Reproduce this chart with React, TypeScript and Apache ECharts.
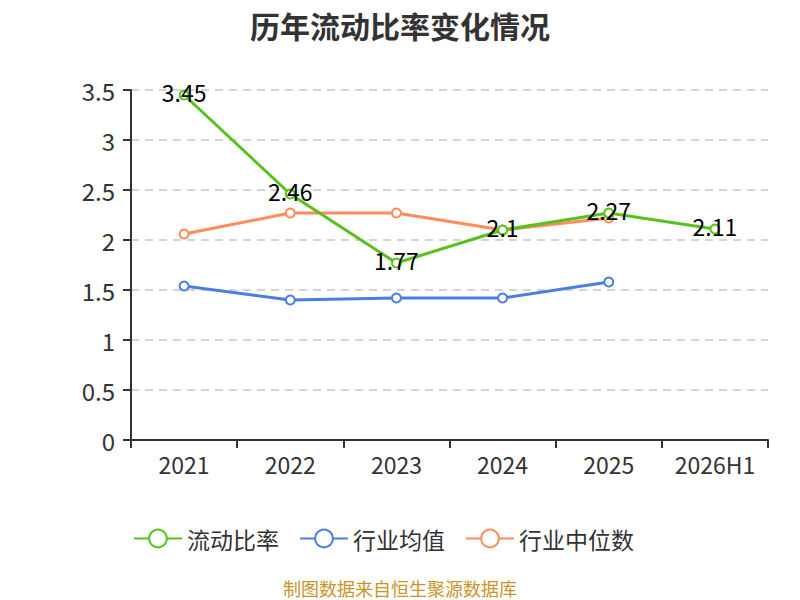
import React, { useEffect, useRef } from "react";
import * as echarts from "echarts";

const categories = ["2021", "2022", "2023", "2024", "2025", "2026H1"];
const currentRatio = [3.45, 2.46, 1.77, 2.1, 2.27, 2.11];
const industryAvg = [1.54, 1.4, 1.42, 1.42, 1.58, null];
const industryMedian = [2.06, 2.27, 2.27, 2.1, 2.22, null];

export default function App() {
  const ref = useRef<HTMLDivElement>(null);
  useEffect(() => {
    const chart = echarts.init(ref.current!, null, { renderer: "svg" });
    const font = "'Noto Sans CJK SC', 'Noto Sans', sans-serif";
    chart.setOption({
      animation: false,
      textStyle: { fontFamily: font },
      title: {
        text: "历年流动比率变化情况",
        left: "center",
        top: 5,
        textStyle: { fontSize: 30, fontWeight: "bold", color: "#333", fontFamily: font },
      },
      legend: {
        top: 527,
        left: 133,
        padding: 0,
        itemWidth: 48,
        itemHeight: 22,
        itemGap: 20,
        textStyle: { fontSize: 23, color: "#333", fontFamily: font },
        data: ["流动比率", "行业均值", "行业中位数"],
      },
      graphic: [
        {
          type: "text",
          left: "center",
          top: 579,
          style: { text: "制图数据来自恒生聚源数据库", fill: "#c9942a", fontSize: 18, lineHeight: 18, fontFamily: font },
        },
      ],
      grid: { left: 131, right: 32, top: 90, bottom: 160 },
      xAxis: {
        type: "category",
        data: categories,
        boundaryGap: true,
        axisLine: { lineStyle: { color: "#333", width: 2 } },
        axisTick: { show: true, length: 8, lineStyle: { color: "#333", width: 2 } },
        axisLabel: { fontSize: 23, color: "#333", margin: 12, interval: 0, fontFamily: font },
      },
      yAxis: {
        type: "value",
        min: 0,
        max: 3.5,
        interval: 0.5,
        axisLine: { show: true, lineStyle: { color: "#333", width: 2 } },
        axisTick: { show: true, length: 8, lineStyle: { color: "#333", width: 2 } },
        axisLabel: { fontSize: 24, color: "#333", margin: 16, fontFamily: font },
        splitLine: { lineStyle: { type: [8, 6], color: "#c8c8c8", width: 1.5 } },
      },
      series: [
        {
          name: "流动比率",
          type: "line",
          data: currentRatio,
          symbol: "emptyCircle",
          symbolSize: 9,
          itemStyle: { color: "#58c11e" },
          lineStyle: { width: 3, color: "#58c11e" },
          label: { show: true, position: "inside", offset: [0, -3], fontSize: 23, color: "#000", fontFamily: font },
          z: 3,
        },
        {
          name: "行业均值",
          type: "line",
          data: industryAvg,
          symbol: "emptyCircle",
          symbolSize: 9,
          itemStyle: { color: "#4a7fe0" },
          lineStyle: { width: 3, color: "#4a7fe0" },
          z: 2,
        },
        {
          name: "行业中位数",
          type: "line",
          data: industryMedian,
          symbol: "emptyCircle",
          symbolSize: 9,
          itemStyle: { color: "#ff8c5a" },
          lineStyle: { width: 3, color: "#ff8c5a" },
          z: 2,
        },
      ],
    });
    return () => chart.dispose();
  }, []);
  return <div ref={ref} style={{ position: "absolute", left: 0, top: 0, width: 800, height: 600 }} />;
}
